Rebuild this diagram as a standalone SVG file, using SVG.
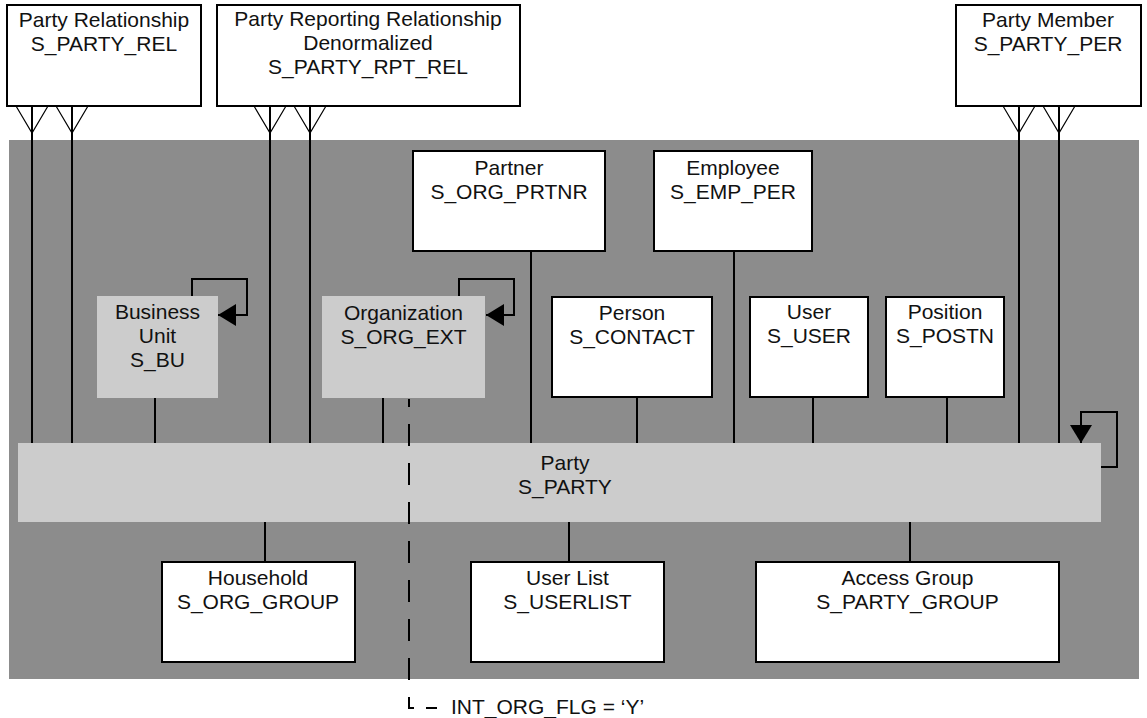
<svg xmlns="http://www.w3.org/2000/svg" width="1147" height="718" viewBox="0 0 1147 718">
<style>
  text { font-family: "Liberation Sans", Arial, sans-serif; font-size: 21px; fill: #111; text-anchor: middle; }
  .box { fill: #fff; stroke: #000; stroke-width: 2; }
  .lbox { fill: #cccccc; stroke: none; }
  .ln { fill: none; stroke: #000; stroke-width: 2; }
  .cf { fill: none; stroke: #000; stroke-width: 1.2; }
  .dash { fill: none; stroke: #000; stroke-width: 2; stroke-dasharray: 22 17; stroke-dashoffset: 14; }
</style>
<defs>
  <marker id="arrow" viewBox="0 0 18 22" refX="18" refY="11" markerWidth="18" markerHeight="22" markerUnits="userSpaceOnUse" orient="auto">
    <path d="M0,0 L18,11 L0,22 z" fill="#000"/>
  </marker>
</defs>
<rect x="0" y="0" width="1147" height="718" fill="#fff"/>
<rect id="bg" x="9" y="140" width="1130" height="539" fill="#8c8c8c"/>

<g id="connectors">
  <!-- crow's feet lines -->
  <path class="ln" d="M32 106 V443 M72 106 V443 M270 106 V443 M310 106 V443 M1019 106 V443 M1059 106 V443"/>
  <path class="cf" d="M16 106 L32 133 L48 106 M56 106 L72 133 L88 106 M254 106 L270 133 L286 106 M294 106 L310 133 L326 106 M1003 106 L1019 133 L1035 106 M1043 106 L1059 133 L1075 106"/>
  <!-- upper connectors -->
  <path class="ln" d="M531 251 V443 M734 251 V443 M155 398 V443 M383 398 V443 M637 398 V443 M813 398 V443 M947 398 V443"/>
  <!-- lower connectors -->
  <path class="ln" d="M265 522 V562 M569 522 V562 M910 522 V562"/>
  <!-- self loops -->
  <path class="ln" d="M192 297 V279 H247 V315 H218" marker-end="url(#arrow)"/>
  <path class="ln" d="M459 297 V279 H514 V315 H486" marker-end="url(#arrow)"/>
  <path class="ln" d="M1101 467 H1117 V412 H1081 V443" marker-end="url(#arrow)"/>
</g>

<g id="party-rel"><rect class="box" x="7" y="5" width="194" height="101"/><text x="104" y="27">Party Relationship</text><text x="104" y="51">S_PARTY_REL</text></g>
<g id="party-rpt-rel"><rect class="box" x="217" y="5" width="303" height="101"/><text x="368" y="26">Party Reporting Relationship</text><text x="368" y="50">Denormalized</text><text x="368" y="74">S_PARTY_RPT_REL</text></g>
<g id="party-member"><rect class="box" x="956" y="5" width="185" height="101"/><text x="1048" y="27">Party Member</text><text x="1048" y="51">S_PARTY_PER</text></g>

<g id="partner"><rect class="box" x="413" y="151" width="192" height="100"/><text x="509" y="175">Partner</text><text x="509" y="199">S_ORG_PRTNR</text></g>
<g id="employee"><rect class="box" x="654" y="151" width="158" height="100"/><text x="733" y="175">Employee</text><text x="733" y="199">S_EMP_PER</text></g>

<g id="business-unit"><rect class="lbox" x="97" y="296" width="121" height="102"/><text x="157.5" y="319">Business</text><text x="157.5" y="343">Unit</text><text x="157.5" y="367">S_BU</text></g>
<g id="organization"><rect class="lbox" x="322" y="296" width="163" height="102"/><text x="403.5" y="320">Organization</text><text x="403.5" y="344">S_ORG_EXT</text></g>
<g id="person"><rect class="box" x="552" y="297" width="160" height="100"/><text x="632" y="320">Person</text><text x="632" y="344">S_CONTACT</text></g>
<g id="user"><rect class="box" x="750" y="297" width="118" height="100"/><text x="809" y="319">User</text><text x="809" y="343">S_USER</text></g>
<g id="position"><rect class="box" x="886" y="297" width="118" height="100"/><text x="945" y="319">Position</text><text x="945" y="343">S_POSTN</text></g>

<g id="party"><rect class="lbox" x="18" y="443" width="1083" height="79"/><text x="565" y="470">Party</text><text x="565" y="494">S_PARTY</text></g>

<g id="household"><rect class="box" x="162" y="562" width="193" height="100"/><text x="258" y="585">Household</text><text x="258" y="609">S_ORG_GROUP</text></g>
<g id="user-list"><rect class="box" x="471" y="562" width="193" height="100"/><text x="567.5" y="585">User List</text><text x="567.5" y="609">S_USERLIST</text></g>
<g id="access-group"><rect class="box" x="756" y="562" width="303" height="100"/><text x="907.5" y="585">Access Group</text><text x="907.5" y="609">S_PARTY_GROUP</text></g>

<g id="int-org-flag">
  <path class="dash" d="M409 399 V681"/>
  <path class="ln" d="M409 697 V708 H414 M426 708 H437"/>
  <text x="451" y="714" style="text-anchor:start">INT_ORG_FLG = ‘Y’</text>
</g>
</svg>
